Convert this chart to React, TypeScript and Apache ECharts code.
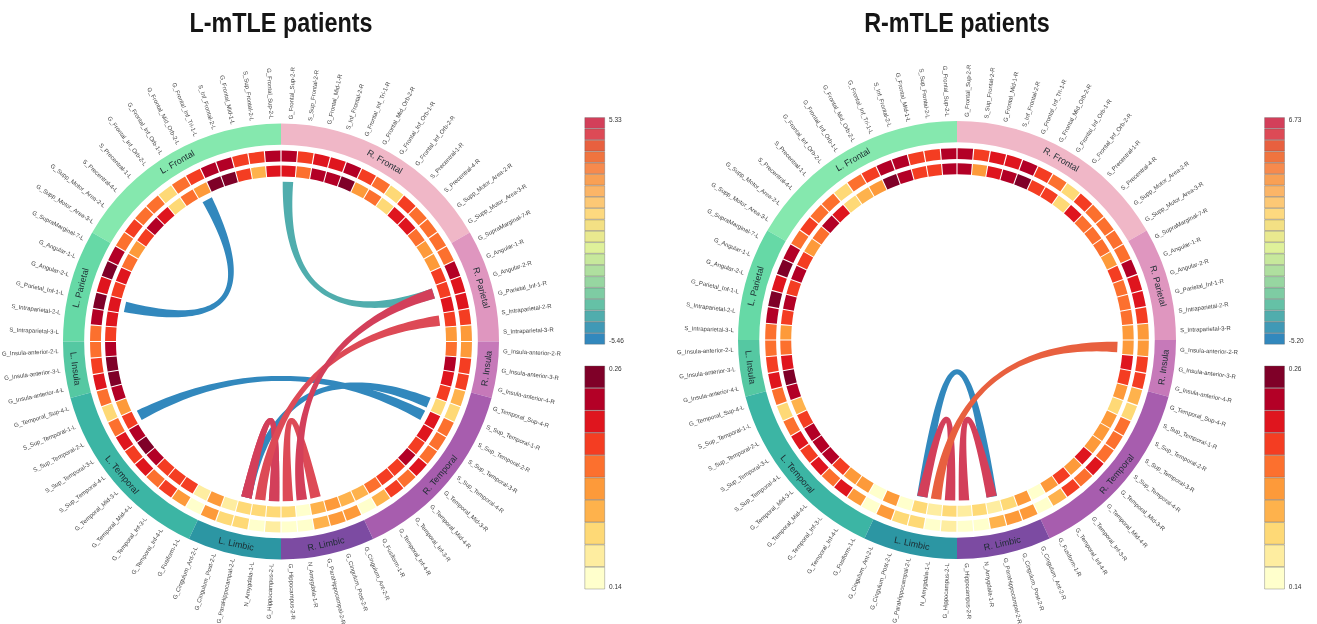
import React, { useEffect, useRef } from "react";
import * as echarts from "echarts";

const nodeBase = [
  "G_Frontal_Sup-2", "S_Sup_Frontal-2", "G_Frontal_Mid-1", "S_Inf_Frontal-2", "G_Frontal_Inf_Tri-1", "G_Frontal_Mid_Orb-2",
  "G_Frontal_Inf_Orb-1", "G_Frontal_Inf_Orb-2", "S_Precentral-1", "S_Precentral-4", "G_Supp_Motor_Area-2", "G_Supp_Motor_Area-3",
  "G_SupraMarginal-7", "G_Angular-1", "G_Angular-2", "G_Parietal_Inf-1", "S_Intraparietal-2", "S_Intraparietal-3",
  "G_Insula-anterior-2", "G_Insula-anterior-3", "G_Insula-anterior-4", "G_Temporal_Sup-4", "S_Sup_Temporal-1", "S_Sup_Temporal-2",
  "S_Sup_Temporal-3", "S_Sup_Temporal-4", "G_Temporal_Mid-3", "G_Temporal_Mid-4", "G_Temporal_Inf-3", "G_Temporal_Inf-4",
  "G_Fusiform-1", "G_Cingulum_Ant-2", "G_Cingulum_Post-2", "G_ParaHippocampal-2", "N_Amygdala-1", "G_Hippocampus-2",
];
const regionNames = ["Frontal", "Parietal", "Insula", "Temporal", "Limbic"];
const regionCounts = [12, 6, 3, 10, 5];
const rightRegionColors = ["#F0B7C7", "#DF96BF", "#C679B9", "#A75DAE", "#7C4BA2"];
const leftRegionColors = ["#85E8AE", "#66D9A6", "#55C8A2", "#3CB5A4", "#2C96A3"];

const heatLegend = ["#FFFFCC", "#FEEDA0", "#FED976", "#FEB24C", "#FD9A3A", "#FC702E", "#F43D22", "#DF151E", "#B30026", "#7F0028"];
const heatMin = 0.14;
const heatMax = 0.26;
const linkLegend = [
  "#3288BD", "#4099B6", "#50ADAD", "#65C1A6", "#7ECCA3", "#97D6A1", "#AFDF9F", "#C7E89C", "#DFF19A", "#E9E98F",
  "#F3E084", "#FDD97F", "#FCC875", "#FBB567", "#F9A054", "#F78A4D", "#F0743F", "#E8603F", "#DD4A56", "#D33F5A",
];

const lOuterA = [.242,.218,.218,.242,.242,.218,.206,.17,.206,.206,.218,.206,.242,.254,.23,.254,.242,.206,.206,.218,.23,.206,.17,.206,.23,.218,.23,.206,.218,.194,.146,.194,.17,.17,.146,.158];
const lInnerA = [.23,.182,.218,.254,.254,.194,.206,.17,.23,.242,.218,.194,.206,.23,.218,.23,.23,.218,.242,.254,.254,.242,.194,.218,.242,.254,.242,.218,.218,.218,.158,.194,.158,.17,.17,.17];
const rOuterA = [.242,.218,.23,.23,.242,.218,.206,.17,.218,.206,.206,.206,.206,.242,.23,.23,.218,.194,.194,.218,.218,.182,.17,.206,.206,.206,.23,.206,.218,.182,.146,.194,.194,.182,.146,.146];
const rInnerA = [.23,.206,.242,.242,.254,.194,.206,.17,.23,.23,.206,.194,.194,.218,.218,.23,.218,.194,.206,.242,.23,.218,.17,.23,.23,.218,.242,.218,.218,.206,.182,.182,.194,.182,.146,.17];

const lOuterB = [.242,.218,.218,.242,.242,.218,.206,.17,.206,.206,.218,.206,.242,.254,.23,.254,.242,.206,.206,.218,.23,.206,.17,.206,.23,.218,.23,.206,.23,.194,.146,.194,.17,.17,.146,.158];
const lInnerB = [.242,.218,.218,.242,.254,.194,.182,.17,.23,.242,.206,.194,.218,.242,.218,.242,.218,.194,.206,.23,.254,.242,.182,.218,.242,.242,.242,.218,.194,.194,.146,.194,.146,.17,.158,.17];
const rOuterB = [.242,.218,.23,.23,.242,.218,.206,.17,.218,.206,.206,.206,.206,.242,.23,.23,.218,.194,.194,.218,.218,.182,.17,.206,.206,.206,.23,.206,.218,.182,.146,.194,.194,.182,.146,.146];
const rInnerB = [.242,.194,.23,.242,.254,.218,.218,.17,.23,.206,.206,.206,.194,.218,.206,.206,.206,.194,.194,.23,.218,.194,.17,.194,.194,.194,.23,.194,.218,.194,.146,.194,.17,.158,.17,.158];

const linkFromA = ["G_Frontal_Mid_Orb-2-L", "G_Frontal_Sup-2-R", "S_Sup_Temporal-2-L", "S_Sup_Temporal-1-R", "G_ParaHippocampal-2-L", "G_ParaHippocampal-2-L", "G_Hippocampus-2-R", "N_Amygdala-1-L", "N_Amygdala-1-R"];
const linkToA = ["G_Parietal_Inf-1-L", "G_Angular-2-R", "S_Sup_Temporal-2-R", "G_ParaHippocampal-2-L", "G_Hippocampus-2-L", "G_Hippocampus-2-L", "G_ParaHippocampal-2-R", "S_Intraparietal-2-R", "G_Angular-2-R"];
const linkValueA = [-5.3, -4.2, -5.3, -5.2, 5.2, 5.2, 4.7, 4.7, 5.2];
const linkBendA = [0, 0, 0, 0, 0, 0, 0, 0, 0];

const linkFromB = ["G_ParaHippocampal-2-L", "G_ParaHippocampal-2-L", "G_Hippocampus-2-R", "N_Amygdala-1-L"];
const linkToB = ["G_ParaHippocampal-2-R", "G_Hippocampus-2-L", "G_ParaHippocampal-2-R", "G_Insula-anterior-2-R"];
const linkValueB = [-5.0, 6.6, 6.6, 5.2];
const linkBendB = [0.425, 0, 0, 0];

const panels = [
  { title: "L-mTLE patients", cx: 281, cy: 341.5, r: 218, linkMax: "5.33", linkMin: "-5.46", lo: -5.46, hi: 5.33, legendX: 584.5,
    heat: [rOuterA, rInnerA, lOuterA, lInnerA], from: linkFromA, to: linkToA, val: linkValueA, bend: linkBendA },
  { title: "R-mTLE patients", cx: 957, cy: 340, r: 219, linkMax: "6.73", linkMin: "-5.20", lo: -5.2, hi: 6.73, legendX: 1264.3,
    heat: [rOuterB, rInnerB, lOuterB, lInnerB], from: linkFromB, to: linkToB, val: linkValueB, bend: linkBendB },
];

const FONT = '"Liberation Sans", Arial, sans-serif';
const NODES = nodeBase.length * 2;
const rightPos = (i: number) => i + 0.5;
const leftPos = (i: number) => NODES - i - 0.5;
const nodePos = (label: string) => {
  const i = nodeBase.indexOf(label.slice(0, -2));
  return label.endsWith("-R") ? rightPos(i) : leftPos(i);
};
const bin = (v: number, lo: number, hi: number, colors: string[]) =>
  colors[Math.max(0, Math.min(colors.length - 1, Math.floor(((v - lo) / (hi - lo)) * colors.length)))];

const sectorShape = (api: any, params: any, r0: number, r1: number, a: number, b: number) => {
  const cs = params.coordSys;
  const p0 = api.coord([r1, a]);
  const p1 = api.coord([r1, b]);
  const o = api.coord([r0, a]);
  const start = Math.atan2(p0[1] - cs.cy, p0[0] - cs.cx);
  let end = Math.atan2(p1[1] - cs.cy, p1[0] - cs.cx);
  while (end <= start) end += Math.PI * 2;
  return {
    cx: cs.cx, cy: cs.cy,
    r: Math.hypot(p0[0] - cs.cx, p0[1] - cs.cy),
    r0: Math.hypot(o[0] - cs.cx, o[1] - cs.cy),
    startAngle: start, endAngle: end, clockwise: true,
  };
};

const RING_OUT = 1, RING_IN = 0.903;
const HEAT = [[0.826, 0.876], [0.757, 0.807]];
const LINK_R = 0.733;
const LABEL_R = 1.02;

function buildSeries(p: any, idx: number) {
  const out: any[] = [];
  const segs: any[] = [];
  let acc = 0;
  regionCounts.forEach((c, i) => {
    segs.push({ a: acc, b: acc + c, color: rightRegionColors[i], name: "R. " + regionNames[i] });
    segs.push({ a: NODES - acc - c, b: NODES - acc, color: leftRegionColors[i], name: "L. " + regionNames[i] });
    acc += c;
  });
  out.push({
    type: "custom", coordinateSystem: "polar", polarIndex: idx, silent: true, clip: false,
    encode: { radius: 0, angle: 1 },
    data: segs.map((s) => [RING_OUT, s.a, s.b]),
    renderItem: (params: any, api: any) => {
      const seg = segs[params.dataIndex];
      const shape = sectorShape(api, params, RING_IN, RING_OUT, seg.a, seg.b);
      const cs = params.coordSys;
      const m = api.coord([(RING_IN + RING_OUT) / 2, (seg.a + seg.b) / 2]);
      const th = Math.atan2(m[1] - cs.cy, m[0] - cs.cx);
      const rot = th < 0 ? -(th + Math.PI / 2) : -(th - Math.PI / 2);
      return {
        type: "group",
        children: [
          { type: "sector", shape, style: { fill: seg.color } },
          { type: "text", x: m[0], y: m[1], rotation: rot, z2: 5,
            style: { text: seg.name, align: "center", verticalAlign: "middle", font: `9px ${FONT}`, fill: "#1c2b30" } },
        ],
      };
    },
  });
  const cells: any[] = [];
  nodeBase.forEach((_, i) => {
    cells.push([HEAT[0][1], rightPos(i), p.heat[0][i], 0]);
    cells.push([HEAT[1][1], rightPos(i), p.heat[1][i], 1]);
    cells.push([HEAT[0][1], leftPos(i), p.heat[2][i], 0]);
    cells.push([HEAT[1][1], leftPos(i), p.heat[3][i], 1]);
  });
  out.push({
    type: "custom", coordinateSystem: "polar", polarIndex: idx, silent: true, clip: false,
    encode: { radius: 0, angle: 1 },
    data: cells,
    renderItem: (params: any, api: any) => {
      const pos = api.value(1);
      const ring = HEAT[api.value(3)];
      return {
        type: "sector",
        shape: sectorShape(api, params, ring[0], ring[1], pos - 0.465, pos + 0.465),
        style: { fill: bin(api.value(2), heatMin, heatMax, heatLegend) },
      };
    },
  });
  const labels: { text: string; pos: number }[] = [];
  nodeBase.forEach((n, i) => {
    labels.push({ text: n + "-R", pos: rightPos(i) });
    labels.push({ text: n + "-L", pos: leftPos(i) });
  });
  out.push({
    type: "custom", coordinateSystem: "polar", polarIndex: idx, silent: true, clip: false,
    encode: { radius: 0, angle: 1 },
    data: labels.map((l) => [LABEL_R, l.pos]),
    renderItem: (params: any, api: any) => {
      const l = labels[params.dataIndex];
      const cs = params.coordSys;
      const q = api.coord([LABEL_R, l.pos]);
      const th = Math.atan2(q[1] - cs.cy, q[0] - cs.cx);
      const right = Math.abs(th) < Math.PI / 2;
      return {
        type: "text", x: q[0], y: q[1], rotation: right ? -th : Math.PI - th,
        style: { text: l.text, align: right ? "left" : "right", verticalAlign: "middle", font: `6px ${FONT}`, fill: "#454545" },
      };
    },
  });
  out.push({
    type: "custom", coordinateSystem: "polar", polarIndex: idx, silent: true, clip: false,
    encode: { radius: 0, angle: 1 },
    data: p.from.map((f: string, i: number) => [LINK_R, nodePos(f), nodePos(p.to[i]), p.val[i], p.bend[i]]),
    renderItem: (params: any, api: any) => {
      const a = api.value(1), b = api.value(2), v = api.value(3), bend = api.value(4);
      const P0 = api.coord([LINK_R, a]);
      const P2 = api.coord([LINK_R, b]);
      const C = api.coord([bend, ((a + b) / 2 + NODES / 2) % NODES]);
      const W0 = 10.5, W1 = 5;
      const leftSide: number[][] = [], rightSide: number[][] = [];
      const N = 60;
      for (let k = 0; k <= N; k++) {
        const t = k / N, u = 1 - t;
        const x = u * u * P0[0] + 2 * u * t * C[0] + t * t * P2[0];
        const y = u * u * P0[1] + 2 * u * t * C[1] + t * t * P2[1];
        const dx = 2 * u * (C[0] - P0[0]) + 2 * t * (P2[0] - C[0]);
        const dy = 2 * u * (C[1] - P0[1]) + 2 * t * (P2[1] - C[1]);
        const len = Math.hypot(dx, dy) || 1;
        const w = (W1 + (W0 - W1) * (2 * t - 1) * (2 * t - 1)) / 2;
        leftSide.push([x - (dy / len) * w, y + (dx / len) * w]);
        rightSide.push([x + (dy / len) * w, y - (dx / len) * w]);
      }
      return {
        type: "polygon",
        shape: { points: leftSide.concat(rightSide.reverse()) },
        style: { fill: bin(v, p.lo, p.hi, linkLegend) },
      };
    },
  });
  return out;
}

function buildOption() {
  const series: any[] = [];
  const grid: any[] = [], xAxis: any[] = [], yAxis: any[] = [];
  const graphic: any[] = [];
  panels.forEach((p, idx) => {
    series.push(...buildSeries(p, idx));
    graphic.push({
      type: "text", x: p.cx, y: 22.3, scaleX: 0.835,
      style: { text: p.title, font: `bold 28px ${FONT}`, fill: "#151515", align: "center", verticalAlign: "middle" },
    });
    [
      { colors: linkLegend, top: 117.3, height: 227.2, hiText: p.linkMax, loText: p.linkMin, hiY: 119.5, loY: 340 },
      { colors: heatLegend, top: 365.7, height: 223.6, hiText: "0.26", loText: "0.14", hiY: 368.5, loY: 586 },
    ].forEach((l) => {
      const gi = grid.length;
      grid.push({ left: p.legendX, width: 20.5, top: l.top, height: l.height });
      xAxis.push({ gridIndex: gi, type: "value", min: 0, max: 1, show: false });
      const ordered = [...l.colors].reverse();
      yAxis.push({ gridIndex: gi, type: "category", inverse: true, show: false, data: ordered.map((_, i) => String(i)) });
      series.push({
        type: "bar", xAxisIndex: gi, yAxisIndex: gi, barWidth: "100%", silent: true,
        data: ordered.map((c) => ({ value: 1, itemStyle: { color: c, borderColor: "rgba(90,90,90,0.6)", borderWidth: 0.6 } })),
      });
      [[l.hiText, l.hiY], [l.loText, l.loY]].forEach(([text, y]) => {
        graphic.push({ type: "text", x: p.legendX + 24.5, y, style: { text, font: `6.5px ${FONT}`, fill: "#333", align: "left", verticalAlign: "middle" } });
      });
    });
  });
  return {
    animation: false,
    backgroundColor: "#fff",
    polar: panels.map((p) => ({ center: [p.cx, p.cy], radius: p.r })),
    angleAxis: panels.map((_, i) => ({ polarIndex: i, type: "value", min: 0, max: NODES, startAngle: 90, clockwise: true, show: false })),
    radiusAxis: panels.map((_, i) => ({ polarIndex: i, type: "value", min: 0, max: 1, show: false })),
    grid, xAxis, yAxis, series, graphic,
  };
}

export default function App() {
  const ref = useRef<HTMLDivElement>(null);
  useEffect(() => {
    const chart = echarts.init(ref.current!, undefined, { renderer: "svg" });
    chart.setOption(buildOption() as any);
    return () => chart.dispose();
  }, []);
  return <div ref={ref} style={{ position: "absolute", left: 0, top: 0, width: 1317, height: 624, filter: "blur(0.35px)" }} />;
}
